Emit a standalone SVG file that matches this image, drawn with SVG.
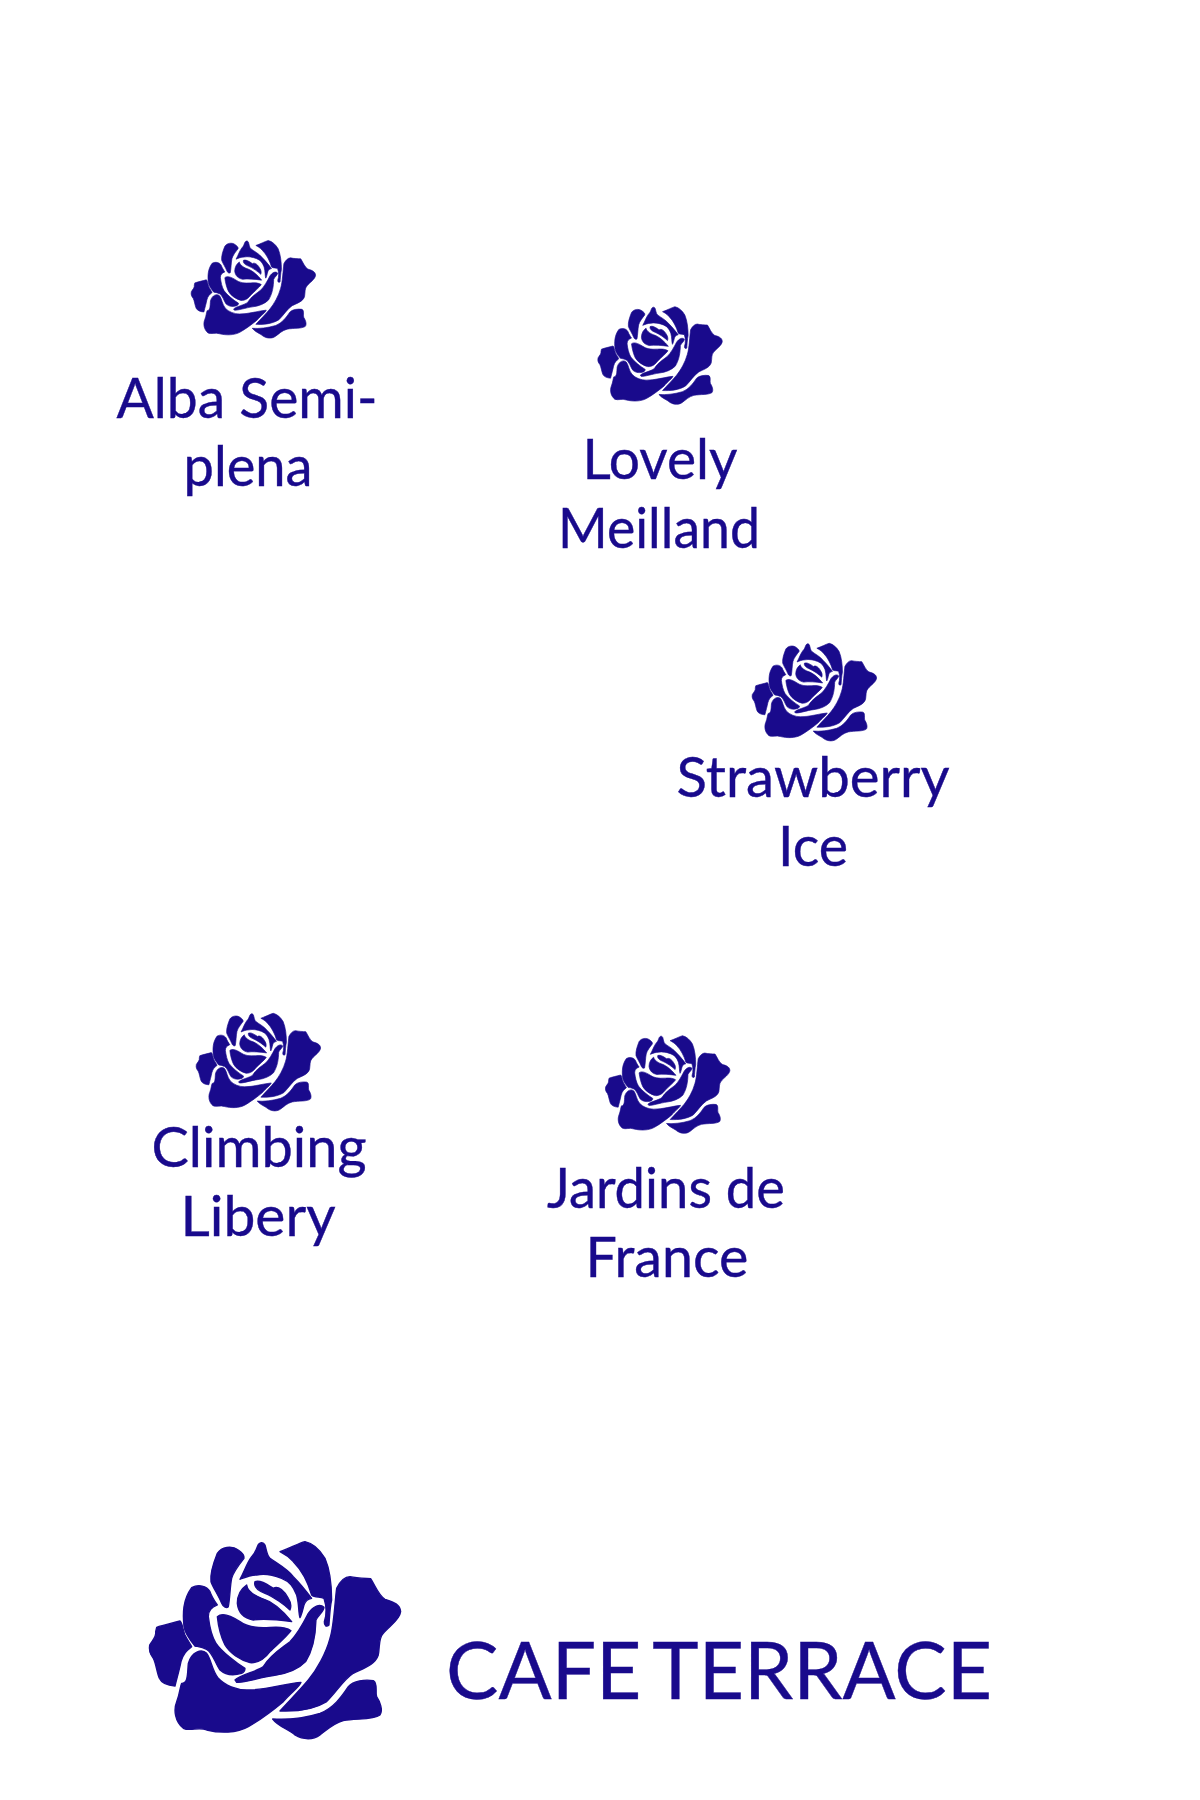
<svg xmlns="http://www.w3.org/2000/svg" width="1200" height="1800" viewBox="0 0 1200 1800">
<style>
.rose path{fill:#190a8c;stroke:#190a8c;stroke-width:4;stroke-linejoin:round}
text{font-family:"Lato","Open Sans","Liberation Sans",sans-serif;fill:#190a8c;stroke:#190a8c;stroke-width:.4;text-anchor:middle}
.l{font-size:57px}
.t{font-size:80px;word-spacing:-7px}
</style>
<defs>
<g id="rose" class="rose">
<path d="M80 322C100 315 125 310 150 303C158 310 157 325 165 345C172 360 182 372 185 380C170 392 160 400 153 425C148 450 142 470 135 498C115 497 95 490 88 475C80 455 78 430 70 415C62 405 55 395 59 375C68 360 80 350 77 335Z"/>
<path d="M185 203C205 192 230 197 240 215C245 230 255 245 262 255C245 262 235 270 235 290C238 315 245 350 258 370C275 395 320 430 345 445C345 452 340 458 335 460C315 466 290 468 270 450C255 430 250 400 230 388C215 380 205 380 195 378C180 360 165 340 162 320C158 280 158 240 185 203Z"/>
<path d="M262 100C275 80 305 75 325 90C335 97 345 105 342 115C330 130 310 155 305 175C300 200 300 235 295 260C290 265 280 262 275 250C265 225 250 205 243 185C240 160 250 130 262 100Z"/>
<path d="M330 178C345 150 350 130 365 110C375 100 378 90 382 80C388 65 400 65 405 75C410 90 410 105 420 115C440 130 470 145 490 170C510 190 530 215 545 235C530 238 525 245 522 255C518 270 515 285 510 293C505 280 508 255 500 225C490 200 480 185 455 175C430 165 400 160 380 165C360 165 345 172 330 178Z"/>
<path d="M450 95C480 85 505 70 525 65C550 70 570 90 585 115C600 150 605 200 605 240C600 260 598 300 597 315C590 322 582 318 583 305C590 285 590 260 582 235C570 228 555 235 545 225C535 190 515 150 490 125C475 108 460 100 450 95Z"/>
<path d="M350 195C352 210 370 225 395 235C430 245 465 280 485 305C450 300 400 295 370 300C345 295 325 280 322 250C322 225 335 205 350 195Z"/>
<path d="M375 185C395 178 420 200 430 205C445 195 465 215 475 235C485 250 482 265 480 270C465 255 430 230 405 220C385 212 370 200 375 185Z"/>
<path d="M262 290C275 278 300 285 330 305C350 320 380 325 420 322C445 320 470 322 483 332C470 350 440 375 420 395C405 415 385 430 360 428C330 420 300 400 285 375C275 355 265 320 262 290Z"/>
<path d="M315 480C330 465 380 455 400 440C420 405 455 385 480 365C500 345 520 310 535 280C550 258 570 250 582 262C582 275 565 285 558 300C557 340 552 385 527 425C505 448 470 462 430 467C390 472 340 490 320 487Z"/>
<path d="M175 430C185 395 215 385 230 400C245 420 245 450 265 475C285 497 320 510 350 510C400 512 470 490 513 487C510 500 480 520 460 545C430 570 390 600 355 620C320 640 270 640 230 630C205 620 180 635 160 625C135 605 130 570 140 545C150 520 150 500 155 490C175 490 172 460 175 430Z"/>
<path d="M620 205C630 185 645 170 660 170C680 175 705 175 722 176C735 195 745 225 765 238C785 245 810 250 812 275C810 300 775 320 760 340C745 355 750 380 745 405C735 435 700 445 670 460C640 480 620 515 590 545C550 570 500 575 450 573C480 540 510 510 535 480C560 450 588 400 600 355C612 320 615 240 620 205Z"/>
<path d="M428 597C470 600 520 595 570 580C610 565 635 530 655 500C670 482 705 478 730 482C745 490 735 515 740 530C750 545 760 570 750 585C730 600 680 595 640 602C610 610 590 630 570 645C550 660 520 660 495 645C480 630 445 620 428 597Z"/>
</g>
</defs>
<rect width="1200" height="1800" fill="#fff"/>
<g id="node-alba"><use href="#rose" transform="translate(181.6 229.8) scale(.165)"/><text class="l" x="247" y="418" textLength="261" lengthAdjust="spacingAndGlyphs">Alba Semi-</text><text class="l" x="248" y="486" textLength="129" lengthAdjust="spacingAndGlyphs">plena</text></g>
<g id="node-lovely"><use href="#rose" transform="translate(588.3 296) scale(.165)"/><text class="l" x="660" y="479" textLength="155" lengthAdjust="spacingAndGlyphs">Lovely</text><text class="l" x="659" y="548" textLength="202" lengthAdjust="spacingAndGlyphs">Meilland</text></g>
<g id="node-strawberry"><use href="#rose" transform="translate(742.6 632.6) scale(.165)"/><text class="l" x="813" y="797" textLength="273" lengthAdjust="spacingAndGlyphs">Strawberry</text><text class="l" x="813" y="866" textLength="70" lengthAdjust="spacingAndGlyphs">Ice</text></g>
<g id="node-climbing"><use href="#rose" transform="translate(186.6 1002.6) scale(.165)"/><text class="l" x="259" y="1167" textLength="215" lengthAdjust="spacingAndGlyphs">Climbing</text><text class="l" x="258" y="1236" textLength="155" lengthAdjust="spacingAndGlyphs">Libery</text></g>
<g id="node-jardins"><use href="#rose" transform="translate(595.9 1025) scale(.165)"/><text class="l" x="666" y="1208" textLength="238" lengthAdjust="spacingAndGlyphs">Jardins de</text><text class="l" x="667" y="1277" textLength="163" lengthAdjust="spacingAndGlyphs">France</text></g>
<g id="logo"><use href="#rose" transform="translate(130 1520) scale(.3333)"/><text class="t" x="719" y="1699" textLength="546" lengthAdjust="spacingAndGlyphs">CAFE TERRACE</text></g>
</svg>
